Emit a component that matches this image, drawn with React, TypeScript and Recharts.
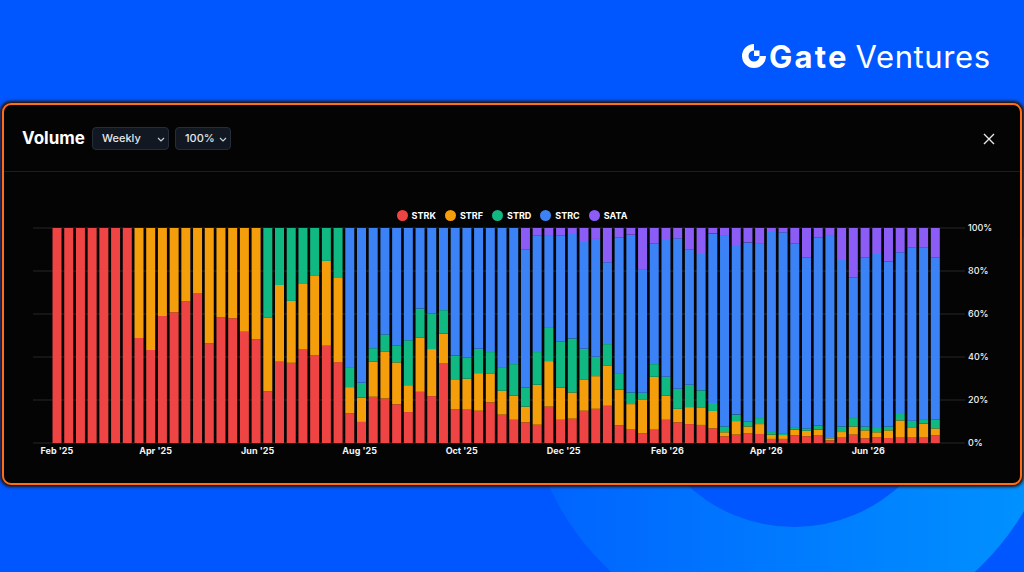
import React from "react";
import { BarChart, Bar, XAxis, YAxis, CartesianGrid } from "recharts";

const FIRST_WEEK = "2025-02-01";

// share of weekly volume per instrument, in percent
const STRK = [
  100, 100, 100, 100, 100, 100, 100, 48.8, 43.3, 59.1, 60.8, 65.9, 69.5, 46.4, 58.5, 58.0,
  51.7, 48.3, 24.1, 37.8, 37.3, 43.7, 40.7, 45.2, 37.6, 13.8, 9.8, 21.5, 20.7, 18.0, 14.4, 23.8,
  21.8, 37.2, 15.6, 15.5, 15.0, 18.9, 13.2, 10.8, 9.6, 8.5, 16.9, 10.8, 11.3, 15.0, 15.9, 17.3,
  8.2, 6.5, 4.5, 6.2, 10.8, 9.6, 8.8, 8.4, 6.8, 3.1, 3.9, 4.6, 4.2, 1.9, 1.9, 3.6,
  3.1, 3.7, 1.2, 2.8, 3.9, 2.2, 2.6, 2.3, 2.8, 2.8, 2.8, 3.6,
];
const STRF = [
  0, 0, 0, 0, 0, 0, 0, 51.2, 56.7, 40.9, 39.2, 34.1, 30.5, 53.6, 41.5, 42.0,
  48.3, 51.7, 34.3, 35.7, 28.8, 30.6, 37.0, 39.5, 39.5, 12.2, 11.3, 16.3, 21.7, 19.5, 12.5, 25.3,
  21.9, 13.7, 13.7, 14.4, 17.5, 13.5, 11.1, 11.3, 7.3, 18.6, 21.2, 14.9, 12.2, 14.6, 15.2, 18.8,
  16.6, 11.6, 15.8, 24.6, 11.3, 6.3, 7.9, 8.2, 8.1, 1.9, 6.3, 3.1, 4.6, 2.0, 1.8, 2.6,
  2.6, 2.5, 1.0, 2.3, 3.8, 3.7, 2.4, 3.6, 7.7, 4.5, 6.2, 3.2,
];
const STRD = [
  0, 0, 0, 0, 0, 0, 0, 0, 0, 0, 0, 0, 0, 0, 0, 0,
  0, 0, 41.6, 26.5, 33.9, 25.7, 22.3, 15.3, 22.9, 9.3, 6.9, 6.3, 8.1, 7.9, 20.9, 13.4,
  16.4, 10.9, 11.4, 9.7, 11.3, 9.9, 11.0, 14.6, 9.0, 15.2, 15.8, 21.4, 25.1, 14.2, 9.0, 9.9,
  7.7, 5.4, 3.1, 5.9, 8.7, 9.3, 10.4, 7.9, 3.7, 2.7, 3.0, 2.4, 2.8, 1.2, 0.9, 1.2,
  1.1, 1.8, 0.6, 2.6, 3.9, 1.8, 2.0, 1.8, 3.0, 3.1, 2.1, 4.0,
];
const STRC = [
  0, 0, 0, 0, 0, 0, 0, 0, 0, 0, 0, 0, 0, 0, 0, 0,
  0, 0, 0, 0, 0, 0, 0, 0, 0, 64.7, 72.0, 55.9, 49.5, 54.6, 52.2, 37.5,
  39.9, 38.2, 59.3, 60.4, 56.2, 57.7, 64.7, 63.3, 64.2, 54.1, 42.4, 49.3, 48.6, 49.7, 54.8, 38.1,
  63.2, 73.4, 57.1, 56.2, 63.6, 70.0, 63.0, 63.4, 78.9, 88.6, 78.9, 83.2, 81.0, 93.5, 93.4, 85.5,
  79.6, 87.7, 93.5, 77.4, 65.5, 78.7, 80.9, 76.7, 75.2, 80.6, 79.9, 75.6,
];
const SATA = [
  0, 0, 0, 0, 0, 0, 0, 0, 0, 0, 0, 0, 0, 0, 0, 0,
  0, 0, 0, 0, 0, 0, 0, 0, 0, 0, 0, 0, 0, 0, 0, 0,
  0, 0, 0, 0, 0, 0, 0, 0, 9.9, 3.6, 3.7, 3.6, 2.8, 6.5, 5.1, 15.9,
  4.3, 3.1, 19.5, 7.1, 5.6, 4.8, 9.9, 12.1, 2.5, 3.7, 7.9, 6.7, 7.4, 1.4, 2.0, 7.1,
  13.6, 4.3, 3.7, 14.9, 22.9, 13.6, 12.1, 15.6, 11.3, 9.0, 9.0, 13.6,
];

const MONTH_TICKS = [
  "2025-02-01", "2025-04-01", "2025-06-01", "2025-08-01", "2025-10-01",
  "2025-12-01", "2026-02-01", "2026-04-01", "2026-06-01",
];
const Y_TICKS = [0, 0.2, 0.4, 0.6, 0.8, 1];

const SERIES = [
  { key: "STRK", color: "#ef4444" },
  { key: "STRF", color: "#f59e0b" },
  { key: "STRD", color: "#10b981" },
  { key: "STRC", color: "#3b82f6" },
  { key: "SATA", color: "#8b5cf6" },
];

const MONTHS = ["Jan", "Feb", "Mar", "Apr", "May", "Jun", "Jul", "Aug", "Sep", "Oct", "Nov", "Dec"];
const DAY = 86400000;
const start = Date.parse(FIRST_WEEK);

const weeks = STRK.map((_, i) => new Date(start + i * 7 * DAY).toISOString().slice(0, 10));

const data = weeks.map((week, i) => ({
  week,
  STRK: STRK[i],
  STRF: STRF[i],
  STRD: STRD[i],
  STRC: STRC[i],
  SATA: SATA[i],
}));

// chart geometry
const CHART_W = 1024;
const M_LEFT = 33;
const Y_W = 59;
const PAD_L = 18;
const PAD_R = 24;
const BAND = (CHART_W - M_LEFT - Y_W - PAD_L - PAD_R) / data.length;

// each month label sits on the nearest week, nudged to the exact day
const weekPos = (iso: string) => (Date.parse(iso) - start) / (7 * DAY);
const tickWeeks = MONTH_TICKS.map((m) => weeks[Math.round(weekPos(m))]);

const FONT = "Inter, 'Noto Sans', sans-serif";

function MonthTick(props: any) {
  const { x, y, payload } = props;
  const m = MONTH_TICKS[tickWeeks.indexOf(payload.value)];
  if (!m) return null;
  const d = new Date(m);
  const shift = (weekPos(m) - weeks.indexOf(payload.value)) * BAND;
  return (
    <text
      x={x + shift}
      y={y + 11}
      textAnchor="middle"
      fill="#f3f4f6"
      fontSize={9}
      fontWeight={700}
      fontFamily={FONT}
    >
      {`${MONTHS[d.getUTCMonth()]} '${String(d.getUTCFullYear()).slice(2)}`}
    </text>
  );
}

function Select({ label, left, width }: { label: string; left: number; width: number }) {
  return (
    <div
      style={{
        position: "absolute",
        left,
        top: 127,
        width,
        height: 23,
        boxSizing: "border-box",
        background: "#121822",
        border: "1px solid #262d3a",
        borderRadius: 4,
        color: "#e5e7eb",
        fontSize: 11,
        fontWeight: 500,
        lineHeight: "21px",
        paddingLeft: 9,
      }}
    >
      {label}
      <svg
        width="8"
        height="5"
        viewBox="0 0 8 5"
        style={{ position: "absolute", right: 3, top: 9 }}
      >
        <path d="M1 1 L4 4 L7 1" stroke="#cbd5e1" strokeWidth="1.1" fill="none" />
      </svg>
    </div>
  );
}

export default function App() {
  return (
    <div
      style={{
        position: "absolute",
        left: 0,
        top: 0,
        width: 1024,
        height: 572,
        overflow: "hidden",
        background: "#0057ff",
        fontFamily: FONT,
      }}
    >
      {/* background ring at the bottom */}
      <svg width="1024" height="572" style={{ position: "absolute", left: 0, top: 0 }}>
        <defs>
          <linearGradient id="ring" x1="0" y1="0" x2="1" y2="0">
            <stop offset="0%" stopColor="#0062ff" />
            <stop offset="100%" stopColor="#0094ff" />
          </linearGradient>
        </defs>
        <path
          fillRule="evenodd"
          fill="url(#ring)"
          d="M 793 375 m -268 0 a 268 268 0 1 0 536 0 a 268 268 0 1 0 -536 0 Z M 794 370 m -157 0 a 157 157 0 1 0 314 0 a 157 157 0 1 0 -314 0 Z"
        />
      </svg>

      {/* logo */}
      <div
        style={{
          position: "absolute",
          left: 741,
          top: 36,
          height: 40,
          display: "flex",
          alignItems: "center",
          color: "#ffffff",
        }}
      >
        <svg width="26" height="26" viewBox="0 0 26 26" style={{ marginRight: 2 }}>
          <path d="M13 1 A12 12 0 1 0 25 13 L13 13 Z" fill="#ffffff" />
          <circle cx="13" cy="13" r="5.5" fill="#0057ff" />
          <rect x="13" y="7.5" width="5.5" height="5.5" fill="#ffffff" />
        </svg>
        <span style={{ fontSize: 31, fontWeight: 700, letterSpacing: 2.2 }}>Gate</span>
        <span style={{ fontSize: 31, fontWeight: 400, marginLeft: 7, letterSpacing: 0.6 }}>
          Ventures
        </span>
      </div>

      {/* panel */}
      <div
        style={{
          position: "absolute",
          left: 2,
          top: 103,
          width: 1020,
          height: 382,
          boxSizing: "border-box",
          background: "#040404",
          border: "2px solid #ff6d14",
          borderRadius: 9,
          boxShadow: "0 0 3px 2px #2a1205",
        }}
      />
      <div
        style={{
          position: "absolute",
          left: 22,
          top: 127,
          fontSize: 17,
          fontWeight: 700,
          color: "#ffffff",
          lineHeight: "23px",
        }}
      >
        Volume
      </div>
      <Select label="Weekly" left={92} width={77} />
      <Select label="100%" left={175} width={56} />
      <svg width="14" height="14" style={{ position: "absolute", left: 982, top: 132 }}>
        <path d="M2 2 L12 12 M12 2 L2 12" stroke="#e5e7eb" strokeWidth="1.4" />
      </svg>
      <div
        style={{
          position: "absolute",
          left: 4,
          top: 171,
          width: 1016,
          height: 1,
          background: "#1b1e25",
        }}
      />

      {/* legend */}
      <div
        style={{
          position: "absolute",
          left: 0,
          top: 210,
          width: 1024,
          display: "flex",
          justifyContent: "center",
          gap: 9,
        }}
      >
        {SERIES.map((s) => (
          <div key={s.key} style={{ display: "flex", alignItems: "center", gap: 4 }}>
            <span
              style={{
                width: 11,
                height: 11,
                borderRadius: "50%",
                background: s.color,
                display: "inline-block",
              }}
            />
            <span style={{ color: "#ffffff", fontSize: 9, fontWeight: 700 }}>{s.key}</span>
          </div>
        ))}
      </div>

      <div style={{ position: "absolute", left: 0, top: 200 }}>
        <BarChart
          width={CHART_W}
          height={270}
          data={data}
          stackOffset="expand"
          barCategoryGap="13%"
          margin={{ top: 28, right: 0, left: M_LEFT, bottom: 7 }}
        >
          <CartesianGrid vertical={false} stroke="#262626" strokeWidth={1} />
          <XAxis
            dataKey="week"
            ticks={tickWeeks}
            interval={0}
            axisLine={false}
            tickLine={false}
            tickSize={0}
            tickMargin={0}
            height={20}
            padding={{ left: PAD_L, right: PAD_R }}
            tick={<MonthTick />}
          />
          <YAxis
            orientation="right"
            width={Y_W}
            domain={[0, 1]}
            ticks={Y_TICKS}
            tickFormatter={(v: number) => `${Math.round(v * 100)}%`}
            axisLine={false}
            tickLine={false}
            tickSize={0}
            tickMargin={3}
            tick={{ fill: "#f3f4f6", fontSize: 9, fontWeight: 500, fontFamily: FONT, textAnchor: "start" }}
          />
          {SERIES.map((s) => (
            <Bar
              key={s.key}
              dataKey={s.key}
              stackId="v"
              fill={s.color}
              isAnimationActive={false}
            />
          ))}
        </BarChart>
      </div>
    </div>
  );
}
